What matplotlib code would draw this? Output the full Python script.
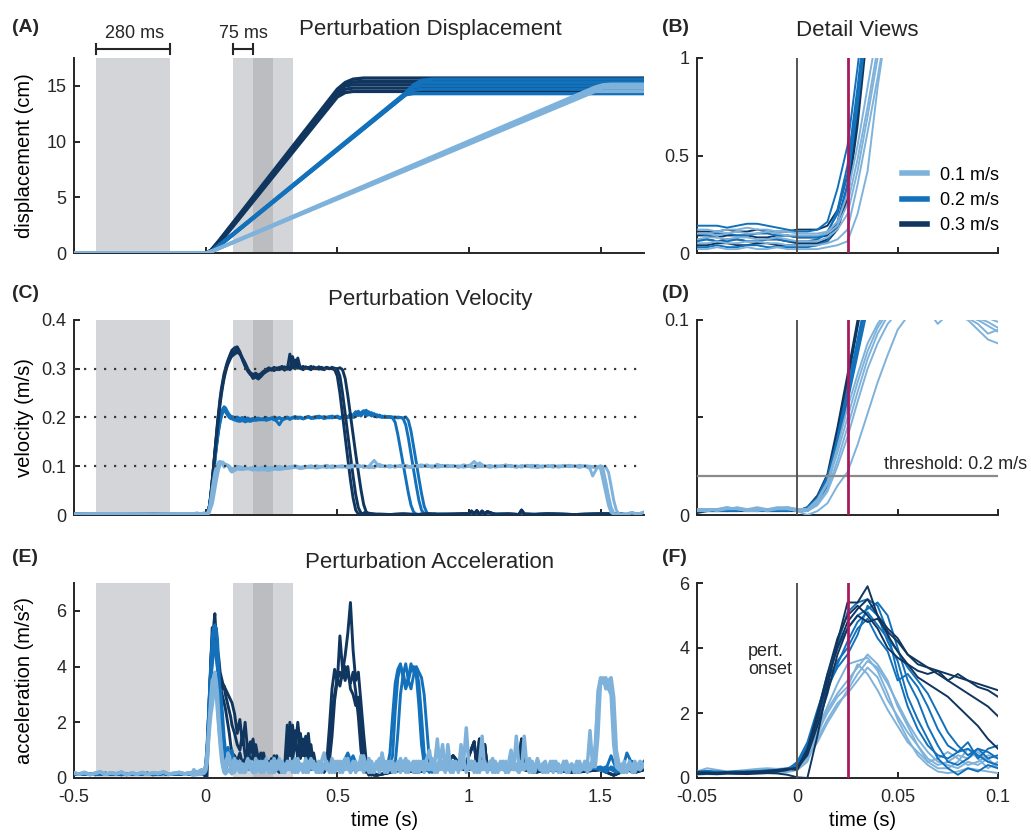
import numpy as np
import matplotlib
matplotlib.use('Agg')
import matplotlib.pyplot as plt
from matplotlib.lines import Line2D
from matplotlib.transforms import blended_transform_factory

plt.rcParams['font.family'] = ['Liberation Sans', 'DejaVu Sans']

speeds = ['0.1 m/s', '0.2 m/s', '0.3 m/s']
c_lo, c_mid, c_hi = '#7fb2da', '#1271ba', '#10365f'

# analysis windows (s)
win_base = (-0.415, -0.135)
win_pert = (0.105, 0.33)
win_mid = (0.18, 0.255)

# ---------------- (A) displacement, cm : knots
disp_t_03 = [-0.5, 0.0, 0.02, 0.05, 0.50, 0.53, 0.56, 0.60, 1.665]
disp_03 = [[0, 0, 0.15, 0.8, 14.0, 14.4, 14.5, 14.5, 14.5],
           [0, 0, 0.15, 0.9, 14.2, 14.7, 14.8, 14.8, 14.8],
           [0, 0, 0.2, 1.0, 14.4, 15.0, 15.1, 15.1, 15.1],
           [0, 0, 0.2, 1.0, 14.5, 15.1, 15.35, 15.4, 15.4],
           [0, 0, 0.25, 1.1, 14.7, 15.3, 15.6, 15.7, 15.7]]
disp_t_02 = [-0.5, 0.0, 0.02, 0.05, 0.76, 0.79, 0.82, 0.86, 1.665]
disp_02 = [[0, 0, 0.1, 0.6, 14.2, 14.3, 14.3, 14.3, 14.3],
           [0, 0, 0.1, 0.6, 14.2, 14.6, 14.7, 14.7, 14.7],
           [0, 0, 0.1, 0.65, 14.3, 14.9, 15.0, 15.0, 15.0],
           [0, 0, 0.12, 0.65, 14.3, 15.0, 15.3, 15.3, 15.3],
           [0, 0, 0.12, 0.7, 14.4, 15.1, 15.5, 15.6, 15.6]]
disp_t_01 = [-0.5, 0.0, 0.03, 1.48, 1.51, 1.54, 1.665]
disp_01 = [[0, 0, 0.2, 14.5, 14.5, 14.5, 14.5],
           [0, 0, 0.2, 14.7, 14.8, 14.8, 14.8],
           [0, 0, 0.2, 14.8, 15.0, 15.0, 15.0],
           [0, 0, 0.25, 14.9, 15.1, 15.15, 15.15]]

# ---------------- detail views, 5 ms samples from -0.05 s
t_fine = np.linspace(-0.05, 0.1, 31)

# (B) displacement detail (cm)
bd_01 = [[0.05, 0.05, 0.06, 0.05, 0.05, 0.06, 0.06, 0.05, 0.05, 0.04, 0.04, 0.04, 0.04, 0.05, 0.07, 0.12, 0.35, 0.62, 0.9, 1.2],
         [0.10, 0.10, 0.09, 0.10, 0.11, 0.10, 0.10, 0.11, 0.10, 0.09, 0.09, 0.09, 0.09, 0.10, 0.14, 0.25, 0.48, 0.75, 1.05, 1.3],
         [0.02, 0.02, 0.03, 0.02, 0.02, 0.03, 0.02, 0.02, 0.03, 0.02, 0.02, 0.02, 0.02, 0.03, 0.04, 0.06, 0.2, 0.42, 0.85, 1.2],
         [0.07, 0.08, 0.08, 0.07, 0.08, 0.08, 0.07, 0.07, 0.08, 0.07, 0.06, 0.06, 0.06, 0.08, 0.12, 0.2, 0.42, 0.7, 1.0, 1.3],
         [0.12, 0.12, 0.11, 0.12, 0.12, 0.13, 0.12, 0.12, 0.11, 0.11, 0.10, 0.10, 0.10, 0.11, 0.16, 0.30, 0.55, 0.85, 1.15]]
bd_02 = [[0.14, 0.14, 0.14, 0.13, 0.14, 0.15, 0.15, 0.14, 0.13, 0.12, 0.11, 0.11, 0.12, 0.16, 0.33, 0.55, 0.95, 1.4],
         [0.06, 0.07, 0.06, 0.06, 0.07, 0.06, 0.06, 0.07, 0.07, 0.06, 0.06, 0.06, 0.07, 0.10, 0.22, 0.45, 0.85, 1.3],
         [0.10, 0.09, 0.10, 0.10, 0.09, 0.09, 0.10, 0.10, 0.09, 0.09, 0.08, 0.08, 0.08, 0.11, 0.20, 0.40, 0.80, 1.25],
         [0.03, 0.03, 0.04, 0.03, 0.03, 0.04, 0.04, 0.03, 0.03, 0.03, 0.03, 0.03, 0.04, 0.06, 0.15, 0.35, 0.75, 1.2]]
bd_03 = [[0.07, 0.07, 0.06, 0.07, 0.07, 0.06, 0.06, 0.07, 0.07, 0.06, 0.05, 0.05, 0.05, 0.07, 0.14, 0.30, 0.70, 1.2],
         [0.11, 0.11, 0.11, 0.12, 0.11, 0.11, 0.12, 0.11, 0.11, 0.11, 0.12, 0.12, 0.12, 0.14, 0.22, 0.40, 0.80, 1.3],
         [0.04, 0.04, 0.05, 0.05, 0.04, 0.04, 0.05, 0.05, 0.04, 0.04, 0.04, 0.04, 0.04, 0.06, 0.12, 0.28, 0.65, 1.15],
         [0.09, 0.09, 0.08, 0.09, 0.09, 0.09, 0.08, 0.08, 0.09, 0.09, 0.08, 0.08, 0.08, 0.09, 0.16, 0.35, 0.75, 1.25]]

# (D) velocity detail (m/s), continues above the 0.1 clip into panel C
vf_03 = [[0.002, 0.002, 0.003, 0.002, 0.002, 0.003, 0.003, 0.002, 0.002, 0.003, 0.002,
          0.004, 0.010, 0.021, 0.045, 0.072, 0.100, 0.130, 0.160, 0.190, 0.215,
          0.240, 0.260, 0.275, 0.290, 0.300, 0.310, 0.318, 0.325, 0.332, 0.338],
         [0.001, 0.002, 0.002, 0.003, 0.002, 0.002, 0.003, 0.002, 0.003, 0.002, 0.002,
          0.003, 0.008, 0.018, 0.040, 0.068, 0.096, 0.125, 0.152, 0.180, 0.205,
          0.228, 0.248, 0.265, 0.280, 0.292, 0.302, 0.310, 0.316, 0.322, 0.326],
         [0.003, 0.003, 0.002, 0.002, 0.003, 0.003, 0.002, 0.003, 0.003, 0.002, 0.003,
          0.003, 0.009, 0.019, 0.043, 0.070, 0.098, 0.128, 0.157, 0.185, 0.210,
          0.234, 0.254, 0.270, 0.284, 0.295, 0.305, 0.312, 0.320, 0.326, 0.330]]
vf_02 = [[0.002, 0.003, 0.002, 0.002, 0.003, 0.002, 0.002, 0.003, 0.002, 0.002, 0.003,
          0.003, 0.008, 0.018, 0.040, 0.065, 0.090, 0.115, 0.140, 0.162, 0.182,
          0.198, 0.210, 0.218, 0.222, 0.220, 0.215, 0.210, 0.206, 0.203, 0.202],
         [0.003, 0.002, 0.002, 0.003, 0.002, 0.003, 0.002, 0.002, 0.003, 0.003, 0.002,
          0.002, 0.006, 0.015, 0.035, 0.060, 0.085, 0.110, 0.134, 0.156, 0.175,
          0.190, 0.202, 0.210, 0.214, 0.212, 0.208, 0.204, 0.200, 0.198, 0.197],
         [0.002, 0.002, 0.003, 0.002, 0.003, 0.002, 0.003, 0.002, 0.002, 0.003, 0.002,
          0.004, 0.009, 0.020, 0.038, 0.062, 0.088, 0.112, 0.136, 0.158, 0.178,
          0.194, 0.206, 0.214, 0.217, 0.214, 0.209, 0.205, 0.201, 0.199, 0.200],
         [0.002, 0.003, 0.003, 0.002, 0.002, 0.003, 0.002, 0.003, 0.002, 0.002, 0.003,
          0.003, 0.007, 0.016, 0.036, 0.058, 0.082, 0.106, 0.130, 0.152, 0.172,
          0.188, 0.200, 0.208, 0.212, 0.210, 0.206, 0.201, 0.197, 0.195, 0.196]]
vf_01 = [[0.003, 0.003, 0.003, 0.004, 0.003, 0.003, 0.003, 0.003, 0.004, 0.004, 0.003,
          0.003, 0.008, 0.017, 0.035, 0.055, 0.072, 0.088, 0.098, 0.105, 0.109,
          0.110, 0.108, 0.105, 0.102, 0.104, 0.103, 0.101, 0.098, 0.093, 0.095],
         [0.002, 0.003, 0.003, 0.004, 0.003, 0.002, 0.003, 0.003, 0.003, 0.004, 0.003,
          0.002, 0.006, 0.013, 0.028, 0.045, 0.063, 0.080, 0.093, 0.102, 0.107,
          0.109, 0.108, 0.105, 0.098, 0.103, 0.102, 0.100, 0.095, 0.090, 0.088],
         [0.003, 0.002, 0.003, 0.003, 0.004, 0.003, 0.003, 0.002, 0.003, 0.003, 0.002,
          0.000, 0.002, 0.006, 0.015, 0.022, 0.036, 0.052, 0.068, 0.082, 0.095,
          0.102, 0.107, 0.109, 0.106, 0.104, 0.103, 0.102, 0.100, 0.097, 0.094],
         [0.002, 0.002, 0.003, 0.003, 0.003, 0.002, 0.002, 0.003, 0.003, 0.003, 0.002,
          0.002, 0.005, 0.012, 0.025, 0.040, 0.058, 0.075, 0.088, 0.098, 0.104,
          0.108, 0.107, 0.104, 0.102, 0.103, 0.101, 0.103, 0.101, 0.099, 0.096],
         [0.003, 0.003, 0.002, 0.003, 0.003, 0.003, 0.004, 0.003, 0.003, 0.003, 0.003,
          0.003, 0.007, 0.016, 0.032, 0.050, 0.068, 0.084, 0.096, 0.104, 0.108,
          0.109, 0.106, 0.104, 0.103, 0.102, 0.104, 0.102, 0.100, 0.101, 0.099]]

# (F) acceleration detail (m/s^2)
af_03 = [[0.12, 0.13, 0.12, 0.14, 0.13, 0.12, 0.14, 0.15, 0.14, 0.10, 0.02,
          0.0, 1.3, 2.8, 4.2, 5.4, 5.4, 5.9, 5.0, 4.6, 4.3, 3.8, 3.6, 3.4, 3.3, 3.2, 3.1, 3.0, 2.9, 2.8, 2.7],
         [0.15, 0.16, 0.14, 0.15, 0.17, 0.16, 0.18, 0.2, 0.22, 0.28, 0.30,
          0.9, 2.0, 3.2, 4.3, 5.0, 5.3, 5.0, 4.6, 4.0, 3.7, 3.5, 3.3, 3.2, 3.3, 3.0, 2.8, 2.6, 2.4, 2.2, 1.9],
         [0.18, 0.17, 0.16, 0.18, 0.17, 0.19, 0.2, 0.22, 0.25, 0.28, 0.25,
          0.8, 1.8, 3.0, 4.0, 4.8, 5.2, 5.5, 5.0, 4.4, 3.9, 3.5, 3.1, 2.9, 2.7, 2.5, 2.2, 1.9, 1.6, 1.2, 0.9],
         [0.14, 0.15, 0.14, 0.16, 0.15, 0.14, 0.16, 0.18, 0.2, 0.25, 0.32,
          0.7, 1.6, 2.6, 3.8, 4.6, 5.0, 4.8, 4.9, 4.5, 4.2, 3.8, 3.5, 3.4, 3.2, 3.0, 3.2, 3.0, 2.8, 2.7, 2.5]]
af_02 = [[0.15, 0.18, 0.17, 0.16, 0.18, 0.19, 0.18, 0.2, 0.22, 0.28, 0.35,
          0.9, 1.9, 3.1, 4.1, 5.1, 5.4, 5.5, 5.3, 4.5, 3.2, 2.2, 1.5, 1.0, 0.7, 0.6, 0.8, 0.9, 0.7, 0.5, 0.4],
         [0.2, 0.22, 0.2, 0.19, 0.21, 0.2, 0.22, 0.24, 0.25, 0.3, 0.4,
          1.0, 2.0, 3.2, 4.0, 4.6, 5.0, 5.2, 5.4, 5.0, 4.0, 3.0, 2.4, 1.6, 1.0, 0.5, 0.4, 0.6, 0.9, 0.8, 0.6],
         [0.12, 0.14, 0.13, 0.15, 0.14, 0.16, 0.15, 0.17, 0.2, 0.25, 0.5,
          1.1, 2.1, 3.0, 3.6, 4.0, 4.6, 4.9, 4.3, 3.9, 3.0, 3.2, 2.8, 2.2, 1.5, 1.0, 0.8, 1.1, 0.6, 0.9, 1.0],
         [0.18, 0.17, 0.19, 0.18, 0.17, 0.19, 0.2, 0.19, 0.22, 0.26, 0.45,
          0.9, 1.8, 2.8, 3.4, 3.8, 4.4, 5.3, 5.0, 4.2, 3.6, 2.5, 1.8, 1.2, 0.6, 0.3, 0.1, 0.3, 0.2, 0.4, 0.3],
         [0.16, 0.15, 0.17, 0.16, 0.15, 0.17, 0.18, 0.17, 0.2, 0.24, 0.38,
          0.8, 1.7, 2.7, 3.5, 4.2, 4.8, 5.1, 4.7, 4.3, 3.9, 3.4, 3.0, 2.6, 2.0, 1.4, 1.0, 0.7, 0.9, 0.6, 0.7]]
af_01 = [[0.2, 0.3, 0.25, 0.2, 0.22, 0.25, 0.28, 0.3, 0.28, 0.25, 0.4,
          0.8, 1.5, 2.2, 2.9, 3.5, 3.6, 3.7, 3.3, 2.6, 1.8, 1.2, 0.7, 0.4, 0.2, 0.15, 0.2, 0.3, 0.25, 0.2, 0.15],
         [0.12, 0.13, 0.12, 0.14, 0.15, 0.14, 0.16, 0.18, 0.17, 0.2, 0.3,
          0.6, 1.2, 1.8, 2.3, 2.6, 3.0, 3.4, 3.1, 2.4, 1.9, 1.4, 1.0, 0.6, 0.4, 0.5, 0.7, 0.6, 0.8, 0.5, 0.4],
         [0.1, 0.12, 0.11, 0.13, 0.12, 0.14, 0.13, 0.15, 0.16, 0.18, 0.25,
          0.5, 1.3, 2.1, 2.6, 3.0, 3.4, 3.8, 3.5, 3.0, 2.2, 1.6, 1.0, 0.5, 0.3, 0.3, 0.5, 0.9, 0.6, 0.3, 0.5],
         [0.15, 0.16, 0.15, 0.17, 0.16, 0.15, 0.17, 0.18, 0.2, 0.22, 0.35,
          0.7, 1.4, 2.0, 2.5, 2.8, 3.5, 3.2, 2.7, 2.1, 1.6, 1.1, 0.8, 0.5, 0.6, 0.8, 0.6, 0.4, 0.5, 0.7, 0.6],
         [0.18, 0.2, 0.19, 0.18, 0.2, 0.21, 0.22, 0.24, 0.28, 0.3, 0.3,
          0.6, 1.1, 1.7, 2.2, 2.7, 3.2, 3.6, 3.4, 2.9, 2.3, 1.7, 1.2, 0.8, 0.5, 0.4, 0.3, 0.5, 0.4, 0.6, 0.3]]

# ---------------- (C) velocity before / after the detail window
vel_pre_t = [-0.5, -0.35, -0.2, -0.06]
vel_pre = [0.002, 0.003, 0.002, 0.003]

vel_post_t_03 = np.linspace(0.11, 0.66, 56)
vel_post_03 = [[0.343, 0.345, 0.335, 0.318, 0.305, 0.295, 0.288, 0.284, 0.286, 0.282,
                0.288, 0.292, 0.296, 0.300, 0.297, 0.301, 0.298, 0.303, 0.300, 0.304,
                0.299, 0.330, 0.306, 0.318, 0.301, 0.304, 0.299, 0.303, 0.300, 0.305,
                0.300, 0.302, 0.299, 0.303, 0.300, 0.302, 0.301, 0.300, 0.298, 0.285,
                0.250, 0.205, 0.160, 0.115, 0.072, 0.035, 0.010, 0.002, 0.001, 0.004,
                0.006, 0.002, 0.001, 0.002, 0.001, 0.001],
               [0.330, 0.334, 0.330, 0.320, 0.308, 0.298, 0.292, 0.288, 0.291, 0.287,
                0.290, 0.295, 0.298, 0.302, 0.298, 0.303, 0.299, 0.301, 0.305, 0.299,
                0.303, 0.300, 0.325, 0.302, 0.322, 0.300, 0.305, 0.301, 0.303, 0.299,
                0.304, 0.300, 0.302, 0.299, 0.301, 0.303, 0.300, 0.301, 0.300, 0.299,
                0.285, 0.250, 0.208, 0.165, 0.122, 0.080, 0.042, 0.015, 0.004, 0.001,
                0.002, 0.004, 0.002, 0.001, 0.002, 0.001],
               [0.336, 0.340, 0.333, 0.322, 0.312, 0.300, 0.290, 0.280, 0.283, 0.279,
                0.284, 0.290, 0.294, 0.297, 0.300, 0.296, 0.302, 0.298, 0.301, 0.297,
                0.302, 0.298, 0.303, 0.300, 0.312, 0.302, 0.298, 0.304, 0.301, 0.298,
                0.303, 0.300, 0.304, 0.301, 0.298, 0.302, 0.300, 0.303, 0.301, 0.300,
                0.302, 0.298, 0.280, 0.245, 0.205, 0.165, 0.125, 0.088, 0.052, 0.022,
                0.006, 0.001, 0.003, 0.002, 0.001, 0.002]]
vel_tail_t_03 = [0.70, 0.75, 0.80, 0.85, 0.90, 0.95, 1.00, 1.01, 1.02, 1.03, 1.04, 1.05, 1.06,
                 1.07, 1.10, 1.15, 1.19, 1.20, 1.21, 1.25, 1.30, 1.40, 1.50, 1.60, 1.665]
vel_tail_03 = [0.001, 0.002, 0.001, 0.002, 0.001, 0.002, 0.002, 0.008, 0.002, 0.009, 0.001, 0.008, 0.002,
               0.007, 0.001, 0.002, 0.001, 0.010, 0.002, 0.001, 0.002, 0.001, 0.002, 0.001, 0.001]

vel_post_t_02 = np.linspace(0.11, 0.88, 78)
vel_post_02 = [[0.200, 0.198, 0.197, 0.199, 0.196, 0.198, 0.195, 0.197, 0.194, 0.196,
                0.195, 0.197, 0.194, 0.196, 0.198, 0.195, 0.197, 0.199, 0.196, 0.198,
                0.200, 0.197, 0.199, 0.201, 0.198, 0.200, 0.197, 0.199, 0.201, 0.198,
                0.200, 0.202, 0.199, 0.201, 0.198, 0.200, 0.202, 0.199, 0.201, 0.200,
                0.198, 0.201, 0.199, 0.202, 0.200, 0.205, 0.212, 0.204, 0.210, 0.214,
                0.206, 0.212, 0.203, 0.208, 0.201, 0.204, 0.200, 0.202, 0.201, 0.200,
                0.199, 0.190, 0.165, 0.135, 0.105, 0.075, 0.045, 0.020, 0.006, 0.002,
                0.001, 0.002, 0.003, 0.001, 0.002, 0.001, 0.002, 0.001],
               [0.195, 0.193, 0.192, 0.194, 0.191, 0.193, 0.192, 0.194, 0.196, 0.195,
                0.197, 0.195, 0.198, 0.196, 0.199, 0.197, 0.192, 0.185, 0.194, 0.197,
                0.199, 0.196, 0.200, 0.198, 0.201, 0.199, 0.198, 0.200, 0.202, 0.199,
                0.201, 0.199, 0.202, 0.200, 0.198, 0.201, 0.199, 0.202, 0.200, 0.203,
                0.200, 0.202, 0.199, 0.201, 0.203, 0.200, 0.202, 0.209, 0.203, 0.211,
                0.215, 0.205, 0.210, 0.202, 0.206, 0.201, 0.203, 0.200, 0.202, 0.201,
                0.200, 0.201, 0.199, 0.200, 0.198, 0.185, 0.158, 0.125, 0.092, 0.060,
                0.030, 0.010, 0.003, 0.001, 0.002, 0.001, 0.002, 0.001],
               [0.199, 0.201, 0.198, 0.200, 0.197, 0.199, 0.196, 0.198, 0.197, 0.199,
                0.196, 0.198, 0.200, 0.197, 0.199, 0.201, 0.198, 0.200, 0.197, 0.199,
                0.201, 0.198, 0.200, 0.202, 0.199, 0.201, 0.198, 0.200, 0.202, 0.200,
                0.198, 0.201, 0.203, 0.200, 0.202, 0.199, 0.201, 0.203, 0.200, 0.202,
                0.199, 0.201, 0.204, 0.200, 0.208, 0.202, 0.206, 0.213, 0.205, 0.209,
                0.203, 0.210, 0.204, 0.207, 0.202, 0.205, 0.201, 0.203, 0.200, 0.202,
                0.201, 0.199, 0.201, 0.200, 0.199, 0.201, 0.194, 0.172, 0.140, 0.108,
                0.075, 0.044, 0.018, 0.005, 0.001, 0.002, 0.001, 0.002]]
vel_tail_t_02 = [0.90, 0.95, 1.00, 1.10, 1.20, 1.30, 1.40, 1.50, 1.55, 1.60, 1.665]
vel_tail_02 = [0.002, 0.001, 0.003, 0.002, 0.001, 0.002, 0.001, 0.002, 0.003, 0.001, 0.002]

vel_post_t_01 = np.concatenate([np.linspace(0.12, 1.46, 68), np.linspace(1.47, 1.58, 12)])
vel_post_01 = [[0.096, 0.097, 0.095, 0.098, 0.096, 0.099, 0.097, 0.098, 0.100, 0.097,
                0.099, 0.101, 0.098, 0.100, 0.097, 0.101, 0.099, 0.102, 0.098, 0.100,
                0.101, 0.098, 0.103, 0.099, 0.101, 0.097, 0.100, 0.102, 0.099, 0.101,
                0.098, 0.102, 0.100, 0.097, 0.101, 0.099, 0.103, 0.098, 0.100, 0.102,
                0.099, 0.101, 0.098, 0.103, 0.100, 0.097, 0.101, 0.099, 0.102, 0.098,
                0.100, 0.103, 0.099, 0.101, 0.098, 0.102, 0.100, 0.097, 0.101, 0.099,
                0.102, 0.098, 0.100, 0.101, 0.099, 0.102, 0.100, 0.099,
                0.098, 0.097, 0.099, 0.095, 0.070, 0.045, 0.020, 0.005, 0.002, 0.001, 0.002, 0.001],
               [0.094, 0.093, 0.095, 0.092, 0.096, 0.094, 0.097, 0.095, 0.098, 0.096,
                0.098, 0.100, 0.097, 0.099, 0.101, 0.098, 0.100, 0.097, 0.101, 0.099,
                0.098, 0.101, 0.099, 0.102, 0.098, 0.100, 0.112, 0.099, 0.101, 0.098,
                0.101, 0.099, 0.102, 0.098, 0.100, 0.103, 0.099, 0.101, 0.098, 0.100,
                0.102, 0.099, 0.101, 0.098, 0.100, 0.110, 0.099, 0.101, 0.098, 0.100,
                0.101, 0.099, 0.102, 0.098, 0.101, 0.100, 0.098, 0.102, 0.099, 0.101,
                0.098, 0.101, 0.099, 0.102, 0.100, 0.098, 0.101, 0.100,
                0.099, 0.100, 0.098, 0.100, 0.094, 0.068, 0.040, 0.016, 0.004, 0.001, 0.002, 0.001],
               [0.100, 0.098, 0.096, 0.094, 0.092, 0.093, 0.091, 0.094, 0.093, 0.095,
                0.096, 0.098, 0.095, 0.097, 0.099, 0.096, 0.098, 0.100, 0.097, 0.099,
                0.100, 0.097, 0.099, 0.101, 0.098, 0.100, 0.097, 0.104, 0.099, 0.101,
                0.099, 0.101, 0.098, 0.100, 0.102, 0.099, 0.101, 0.098, 0.104, 0.100,
                0.099, 0.101, 0.098, 0.100, 0.102, 0.099, 0.107, 0.100, 0.098, 0.101,
                0.099, 0.102, 0.100, 0.098, 0.101, 0.099, 0.102, 0.100, 0.098, 0.101,
                0.100, 0.099, 0.102, 0.099, 0.101, 0.098, 0.100, 0.095,
                0.080, 0.090, 0.099, 0.101, 0.099, 0.098, 0.088, 0.060, 0.030, 0.010, 0.002, 0.001]]
vel_tail_t_01 = [1.60, 1.62, 1.64, 1.665]
vel_tail_01 = [0.002, 0.005, 0.001, 0.006]

# ---------------- (E) acceleration before / after the detail window
acc_pre_t = np.linspace(-0.5, -0.06, 23)
acc_pre_lo = [0.18, 0.14, 0.2, 0.12, 0.17, 0.22, 0.13, 0.19, 0.15, 0.21, 0.12, 0.18,
              0.14, 0.2, 0.13, 0.19, 0.16, 0.22, 0.14, 0.17, 0.2, 0.15, 0.19]
acc_pre_hi = [0.12, 0.15, 0.13, 0.16, 0.12, 0.14, 0.17, 0.13, 0.15, 0.12, 0.16, 0.14,
              0.13, 0.15, 0.17, 0.12, 0.14, 0.16, 0.13, 0.15, 0.14, 0.16, 0.15]

acc_post_t_03 = np.linspace(0.11, 0.65, 55)
acc_post_03 = [[2.3, 1.6, 2.1, 1.2, 2.0, 0.9, 1.3, 0.8, 1.2, 0.7,
                0.9, 0.5, 0.6, 0.4, 0.7, 0.5, 0.4, 0.3, 0.5, 0.4,
                1.9, 0.8, 1.9, 1.0, 2.0, 1.1, 1.4, 0.7, 1.3, 0.5,
                0.9, 0.4, 0.3, 0.5, 0.4, 0.3, 0.6, 1.5, 2.8, 3.5,
                3.8, 3.6, 4.0, 3.7, 3.4, 3.8, 3.1, 2.2, 1.0, 0.4,
                0.2, 0.3, 0.2, 0.1, 0.1],
               [1.6, 1.2, 1.0, 1.6, 0.8, 0.7, 1.0, 1.4, 0.6, 0.8,
                0.5, 0.9, 0.4, 0.6, 0.3, 0.8, 0.3, 0.2, 0.3, 0.2,
                0.6, 2.0, 0.9, 1.7, 0.6, 1.6, 0.8, 1.5, 0.6, 1.2,
                0.4, 0.3, 0.5, 0.3, 0.4, 0.6, 1.8, 3.2, 3.9, 3.4,
                5.1, 3.9, 3.5, 4.0, 3.2, 3.0, 2.6, 2.9, 1.8, 0.9,
                0.3, 0.1, 0.2, 0.1, 0.1],
               [0.8, 0.6, 0.9, 0.5, 0.7, 1.1, 0.6, 0.8, 0.5, 0.4,
                0.6, 0.3, 0.5, 0.3, 0.4, 0.2, 0.8, 0.3, 0.2, 0.3,
                1.2, 1.6, 0.6, 1.4, 1.8, 0.7, 1.2, 0.9, 1.6, 0.6,
                0.3, 0.4, 0.2, 0.3, 0.2, 0.4, 0.8, 2.4, 3.0, 3.6,
                3.3, 3.8, 4.4, 5.2, 6.3, 4.6, 3.5, 3.8, 2.7, 1.6,
                0.6, 0.2, 0.1, 0.2, 0.1]]
acc_tail_t_03 = [0.70, 0.75, 0.80, 0.85, 0.90, 0.94, 0.98, 1.02, 1.03, 1.04, 1.05, 1.06, 1.07,
                 1.10, 1.15, 1.19, 1.20, 1.21, 1.25, 1.30, 1.40, 1.50, 1.55, 1.60, 1.63, 1.665]
acc_tail_03 = [0.2, 0.3, 0.2, 0.3, 0.4, 0.8, 0.3, 1.3, 0.4, 1.4, 0.5, 1.2, 0.3,
               0.4, 0.3, 0.5, 1.4, 0.3, 0.2, 0.3, 0.2, 0.3, 0.1, 0.3, 0.2, 0.3]

acc_post_t_02 = [0.11, 0.14, 0.17, 0.20, 0.24, 0.28, 0.32, 0.36, 0.40, 0.44, 0.48, 0.52, 0.54, 0.56,
                 0.58, 0.62, 0.66, 0.69,
                 0.70, 0.71, 0.72, 0.73, 0.74, 0.75, 0.76, 0.77, 0.78, 0.79, 0.80, 0.81, 0.82,
                 0.83, 0.84, 0.85, 0.86,
                 0.88, 0.92, 0.96, 1.00, 1.05, 1.10, 1.15, 1.20, 1.25, 1.30, 1.35, 1.40, 1.45,
                 1.50, 1.52, 1.54, 1.56, 1.58, 1.60, 1.62, 1.64, 1.665]
acc_post_02 = [[0.6, 0.4, 0.3, 0.5, 0.3, 0.4, 0.3, 0.5, 0.3, 0.4, 0.3, 0.5, 0.9, 0.4, 0.3, 0.4, 0.3, 0.4,
                0.9, 2.2, 3.4, 3.9, 4.1, 3.6, 3.2, 3.5, 3.9, 4.0, 3.7, 2.6, 1.2, 0.5, 0.3, 0.2, 0.3,
                0.4, 0.3, 0.4, 0.3, 0.4, 0.3, 0.4, 0.3, 0.4, 0.3, 0.4, 0.3, 0.4, 0.3, 0.2, 0.4, 0.3,
                0.2, 0.9, 0.5, 0.3, 0.6],
               [0.4, 0.5, 0.3, 0.4, 0.5, 0.3, 0.4, 0.3, 0.5, 0.3, 0.4, 0.3, 0.4, 0.8, 0.3, 0.5, 0.3, 0.3,
                0.4, 0.8, 2.4, 3.6, 4.0, 3.8, 3.3, 3.6, 4.1, 3.8, 3.9, 3.4, 2.2, 0.9, 0.4, 0.3, 0.2,
                0.3, 0.4, 0.3, 0.4, 0.3, 0.4, 0.3, 0.4, 0.3, 0.4, 0.3, 0.4, 0.3, 0.4, 0.3, 0.8, 0.3,
                0.4, 0.3, 0.6, 0.4, 0.5],
               [0.5, 0.3, 0.4, 0.3, 0.4, 0.3, 0.5, 0.3, 0.4, 0.3, 0.5, 0.3, 0.4, 0.3, 0.4, 0.3, 0.4, 0.3,
                0.3, 0.3, 0.5, 1.6, 3.0, 3.7, 4.1, 3.5, 3.2, 3.7, 4.0, 3.8, 3.6, 3.0, 1.8, 0.6, 0.3,
                0.4, 0.3, 0.4, 0.3, 0.4, 0.3, 0.4, 0.3, 0.4, 0.3, 0.4, 0.3, 0.4, 0.3, 0.4, 0.3, 0.2,
                0.4, 0.3, 0.4, 0.3, 0.4]]

acc_post_t_01 = np.linspace(0.11, 1.66, 156)
acc_post_01 = [[0.5, 0.3, 0.6, 0.2, 0.4, 0.7, 0.3, 0.5, 0.2, 0.6,
                0.4, 0.3, 0.7, 0.2, 0.5, 0.3, 0.6, 0.4, 0.2, 0.5,
                0.3, 0.6, 0.2, 0.4, 0.7, 0.3, 0.5, 0.2, 0.6, 0.4,
                0.3, 0.5, 0.2, 0.6, 0.9, 0.3, 0.4, 0.2, 0.6, 0.3,
                0.5, 0.2, 0.7, 0.3, 0.4, 0.6, 0.2, 0.5, 0.3, 0.8,
                0.4, 0.2, 0.6, 0.3, 0.5, 0.2, 0.9, 0.4, 0.3, 0.6,
                0.2, 0.5, 0.3, 0.7, 0.4, 0.2, 0.6, 0.3, 0.5, 0.2,
                0.6, 0.3, 0.4, 0.7, 1.0, 0.3, 0.5, 1.4, 0.3, 0.6,
                0.2, 1.2, 0.4, 0.3, 0.6, 0.2, 1.2, 0.4, 0.3, 0.5,
                0.3, 0.6, 0.2, 0.5, 1.5, 0.3, 0.4, 0.6, 0.2, 0.5,
                0.3, 0.6, 0.4, 0.2, 0.5, 1.0, 0.3, 1.5, 0.4, 0.3,
                1.5, 0.4, 0.2, 0.6, 0.3, 0.7, 0.4, 0.2, 0.5, 0.3,
                0.6, 0.2, 0.4, 0.5, 0.3, 0.6, 0.2, 0.4, 0.5, 0.3,
                0.6, 0.2, 0.4, 0.3, 0.5, 1.7, 0.4, 0.8, 3.1, 3.6,
                3.4, 3.5, 3.2, 3.0, 1.2, 0.4, 0.3, 0.5, 0.2, 0.4,
                0.3, 0.5, 0.2, 0.4, 0.6, 0.5],
               [0.2, 0.6, 0.3, 0.5, 0.2, 0.4, 0.6, 0.2, 0.5, 0.3,
                0.6, 0.2, 0.4, 0.5, 0.2, 0.7, 0.3, 0.5, 0.6, 0.2,
                0.5, 0.3, 0.6, 0.2, 0.4, 0.5, 0.2, 0.7, 0.3, 0.5,
                0.6, 0.2, 0.4, 0.3, 0.5, 0.6, 0.2, 0.5, 0.3, 0.6,
                0.2, 0.6, 0.3, 0.5, 0.2, 0.4, 0.6, 0.3, 0.8, 0.2,
                0.5, 0.6, 0.2, 0.4, 0.6, 0.3, 0.5, 0.2, 0.6, 0.3,
                0.6, 0.2, 0.5, 0.3, 0.6, 0.4, 0.2, 0.5, 0.6, 0.3,
                0.2, 0.5, 0.6, 0.3, 0.4, 0.6, 0.2, 0.5, 0.6, 0.3,
                0.5, 0.3, 0.6, 0.2, 0.5, 0.4, 0.3, 0.6, 1.8, 0.4,
                0.6, 0.2, 0.5, 0.4, 0.3, 0.6, 0.2, 0.5, 0.3, 0.6,
                0.2, 0.5, 0.3, 0.6, 0.2, 0.4, 0.6, 0.3, 0.2, 0.5,
                0.4, 0.6, 0.3, 0.5, 0.2, 0.6, 0.3, 0.5, 0.6, 0.2,
                0.4, 0.6, 0.3, 0.5, 0.2, 0.4, 0.6, 0.3, 0.5, 0.2,
                0.4, 0.6, 0.3, 0.5, 0.2, 0.5, 0.6, 0.4, 1.5, 3.5,
                3.6, 3.2, 3.5, 3.6, 2.9, 1.0, 0.5, 0.3, 0.6, 0.2,
                0.5, 0.3, 0.6, 0.4, 0.3, 0.5],
               [0.7, 0.4, 0.2, 0.5, 0.3, 0.6, 0.4, 0.2, 0.7, 0.3,
                0.2, 0.6, 0.4, 0.3, 0.6, 0.2, 0.4, 0.7, 0.3, 0.2,
                0.6, 0.4, 0.3, 0.7, 0.2, 0.5, 0.3, 0.6, 0.2, 0.7,
                0.4, 0.3, 0.6, 0.2, 0.4, 0.5, 0.3, 0.7, 0.2, 0.4,
                0.6, 0.3, 0.4, 0.7, 0.2, 0.5, 0.4, 0.3, 0.6, 0.4,
                0.3, 0.7, 0.4, 0.2, 0.5, 0.7, 0.3, 0.6, 0.2, 0.4,
                0.5, 0.3, 0.6, 0.2, 0.5, 0.7, 0.3, 0.4, 0.2, 0.6,
                0.3, 0.6, 0.2, 0.5, 0.3, 0.7, 0.4, 0.2, 0.6, 1.2,
                0.3, 0.5, 0.2, 0.6, 0.4, 0.3, 0.5, 0.7, 0.2, 0.4,
                0.6, 0.3, 0.5, 0.2, 0.6, 0.4, 0.3, 0.5, 0.7, 0.2,
                0.5, 0.3, 0.6, 0.2, 0.4, 0.6, 0.3, 0.5, 0.2, 0.6,
                0.3, 0.5, 0.7, 0.2, 0.4, 0.6, 0.3, 0.5, 0.2, 0.4,
                0.3, 0.5, 0.6, 0.2, 0.4, 0.3, 0.6, 0.2, 0.5, 0.4,
                0.2, 0.5, 0.3, 0.6, 0.4, 0.3, 0.5, 1.2, 2.8, 3.4,
                3.5, 3.6, 3.3, 3.4, 1.8, 0.6, 0.4, 0.2, 0.5, 0.3,
                0.6, 0.2, 0.4, 0.5, 0.3, 0.4]]

# ---------------- figure
W, H = 1031, 835
fig = plt.figure(figsize=(W / 100, H / 100), dpi=100)

def px_axes(x0, x1, y_top, y_bot):
    return fig.add_axes([x0 / W, 1 - y_bot / H, (x1 - x0) / W, (y_bot - y_top) / H])

ax_a = px_axes(74, 644, 58, 253)
ax_b = px_axes(697, 998, 58, 253)
ax_c = px_axes(74, 644, 320, 515)
ax_d = px_axes(697, 998, 320, 515)
ax_e = px_axes(74, 644, 583, 778)
ax_f = px_axes(697, 998, 583, 778)

ink = '#262626'
for ax in [ax_a, ax_b, ax_c, ax_d, ax_e, ax_f]:
    ax.spines['top'].set_visible(False)
    ax.spines['right'].set_visible(False)
    for s in ['left', 'bottom']:
        ax.spines[s].set_linewidth(1.4)
        ax.spines[s].set_color(ink)
        ax.spines[s].set_zorder(2.5)
    ax.tick_params(direction='in', length=4.5, width=1.4, colors=ink, labelsize=13)
    ax.tick_params(axis='y', pad=5.5)
    ax.tick_params(axis='x', pad=8)

for ax in [ax_a, ax_c, ax_e]:
    ax.set_xlim(-0.5, 1.665)
    ax.set_xticks([-0.5, 0, 0.5, 1, 1.5])
    ax.set_xticklabels([])
    ax.axvspan(*win_base, color='#d4d5d8', lw=0, zorder=0)
    ax.axvspan(*win_pert, color='#d4d5d8', lw=0, zorder=0)
    ax.axvspan(*win_mid, color='#bcbdc1', lw=0, zorder=0)
ax_e.set_xticklabels(['-0.5', '0', '0.5', '1', '1.5'])

for ax in [ax_b, ax_d, ax_f]:
    ax.set_xlim(-0.05, 0.1)
    ax.set_xticks([-0.05, 0, 0.05, 0.1])
    ax.set_xticklabels([])
ax_f.set_xticklabels(['-0.05', '0', '0.05', '0.1'])

lw_l = 2.1
# (A)
for tr in disp_03:
    ax_a.plot(disp_t_03, tr, color=c_hi, lw=2.4, zorder=3)
for tr in disp_02:
    ax_a.plot(disp_t_02, tr, color=c_mid, lw=2.4, zorder=3)
for tr in disp_01:
    ax_a.plot(disp_t_01, tr, color=c_lo, lw=2.4, zorder=3)
ax_a.set_ylim(0, 17.5)
ax_a.set_yticks([0, 5, 10, 15])
ax_a.set_ylabel('displacement (cm)', fontsize=14.5)

# (C)
for k in range(3):
    ax_c.plot(np.concatenate([vel_pre_t, t_fine, vel_post_t_02, vel_tail_t_02]),
              np.concatenate([vel_pre, vf_02[k], vel_post_02[k], vel_tail_02]), color=c_mid, lw=lw_l, zorder=3)
for k in range(3):
    ax_c.plot(np.concatenate([vel_pre_t, t_fine, vel_post_t_03, vel_tail_t_03]),
              np.concatenate([vel_pre, vf_03[k], vel_post_03[k], vel_tail_03]), color=c_hi, lw=lw_l, zorder=3)
for k in range(3):
    ax_c.plot(np.concatenate([vel_pre_t, t_fine, vel_post_t_01, vel_tail_t_01]),
              np.concatenate([vel_pre, vf_01[k], vel_post_01[k], vel_tail_01]), color=c_lo, lw=lw_l, zorder=3)
for lev in [0.1, 0.2, 0.3]:
    ax_c.axhline(lev, color='#3a3a3a', ls=(0, (1, 3.5)), lw=1.6, zorder=4)
ax_c.set_ylim(0, 0.4)
ax_c.set_yticks([0, 0.1, 0.2, 0.3, 0.4])
ax_c.set_yticklabels(['0', '0.1', '0.2', '0.3', '0.4'])
ax_c.set_ylabel('velocity (m/s)', fontsize=14.5)

# (E)
for k in range(3):
    ax_e.plot(np.concatenate([acc_pre_t, t_fine, acc_post_t_03, acc_tail_t_03]),
              np.concatenate([acc_pre_hi, af_03[k], acc_post_03[k], acc_tail_03]), color=c_hi, lw=lw_l, zorder=3)
for k in range(3):
    ax_e.plot(np.concatenate([acc_pre_t, t_fine, acc_post_t_02]),
              np.concatenate([acc_pre_hi, af_02[k], acc_post_02[k]]), color=c_mid, lw=lw_l, zorder=3)
for k in range(3):
    ax_e.plot(np.concatenate([acc_pre_t, t_fine, acc_post_t_01]),
              np.concatenate([acc_pre_lo, af_01[k], acc_post_01[k]]), color=c_lo, lw=2.5, zorder=3)
ax_e.set_ylim(0, 7)
ax_e.set_yticks([0, 2, 4, 6])
ax_e.set_ylabel('acceleration (m/s²)', fontsize=14.5)
ax_e.set_xlabel('time (s)', fontsize=14.5)

# (B)
for group, col in [(bd_03, c_hi), (bd_02, c_mid), (bd_01, c_lo)]:
    for tr in group:
        ax_b.plot(t_fine[:len(tr)], tr, color=col, lw=1.4, zorder=3)
ax_b.set_ylim(0, 1)
ax_b.set_yticks([0, 0.5, 1])
ax_b.set_yticklabels(['0', '0.5', '1'])

# (D)
for group, col in [(vf_03, c_hi), (vf_02, c_mid), (vf_01, c_lo)]:
    for tr in group:
        ax_d.plot(t_fine, tr, color=col, lw=1.4, zorder=3)
ax_d.set_ylim(0, 0.1)
ax_d.set_yticks([0, 0.05, 0.1])
ax_d.set_yticklabels(['0', '', '0.1'])
ax_d.axhline(0.02, color='#8a8a8a', lw=1.6, zorder=4)
ax_d.text(0.1145, 0.0215, 'threshold: 0.2 m/s', ha='right', va='bottom', fontsize=13,
          color=ink, clip_on=False)

# (F)
for group, col in [(af_01, c_lo), (af_02, c_mid), (af_03, c_hi)]:
    for tr in group:
        ax_f.plot(t_fine, tr, color=col, lw=1.4, zorder=3)
ax_f.set_ylim(0, 6)
ax_f.set_yticks([0, 2, 4, 6])
ax_f.set_xlabel('time (s)', fontsize=14.5)
ax_f.text(-0.0245, 3.62, 'pert.\nonset', ha='left', va='center', fontsize=13, color=ink,
          linespacing=1.1)

for ax in [ax_b, ax_d, ax_f]:
    ax.axvline(0, color='#555555', lw=1.4, zorder=4)
    ax.axvline(0.025, color='#a8195e', lw=2.0, zorder=5)

ax_b.legend([Line2D([], [], color=c, lw=4) for c in [c_lo, c_mid, c_hi]], speeds,
            loc='center left', bbox_to_anchor=(0.68, 0.27), frameon=False, fontsize=13,
            handlelength=1.4, handletextpad=0.7, labelspacing=0.45, borderpad=0, borderaxespad=0)

for ax in [ax_a, ax_c, ax_e]:
    ax.yaxis.set_label_coords(-0.07, 0.5)
ax_e.xaxis.set_label_coords(0.544, -0.17)
ax_f.xaxis.set_label_coords(0.55, -0.17)

# window width markers above panel A
tr_a = blended_transform_factory(ax_a.transData, ax_a.transAxes)
for (x0, x1), lab, xc in [(win_base, '280 ms', -0.27), ((0.105, 0.18), '75 ms', 0.143)]:
    ax_a.plot([x0, x1], [1.046, 1.046], color=ink, lw=1.5, transform=tr_a, clip_on=False)
    for xx in (x0, x1):
        ax_a.plot([xx, xx], [1.02, 1.072], color=ink, lw=1.5, transform=tr_a, clip_on=False)
    ax_a.text(xc, 1.125, lab, transform=tr_a, ha='center', va='center', fontsize=13, color=ink)

# titles and panel letters
for txt, x, y in [('Perturbation Displacement', 430, 30), ('Detail Views', 857, 30),
                  ('Perturbation Velocity', 430, 300), ('Perturbation Acceleration', 430, 563)]:
    fig.text(x / W, 1 - y / H, txt, ha='center', va='center', fontsize=16, color=ink)
for txt, x, y in [('(A)', 12, 27), ('(B)', 662, 27), ('(C)', 12, 293), ('(D)', 662, 293),
                  ('(E)', 12, 557), ('(F)', 662, 557)]:
    fig.text(x / W, 1 - y / H, txt, ha='left', va='center', fontsize=14, fontweight='bold', color=ink)

fig.savefig('out.png', dpi=100)
